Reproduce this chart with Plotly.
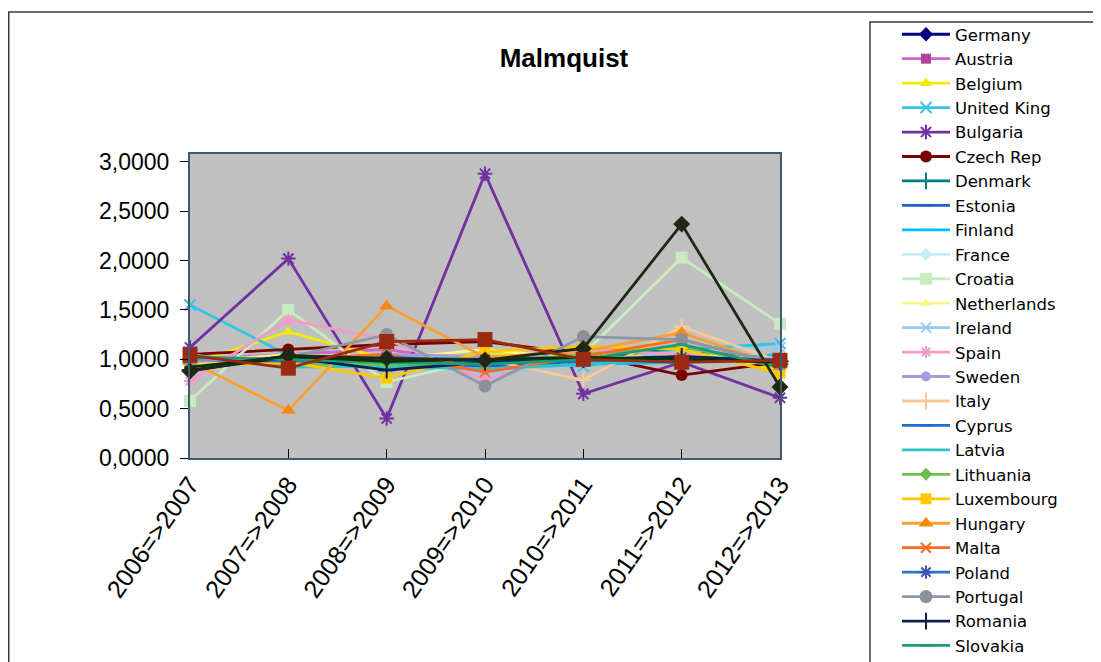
import plotly.graph_objects as go

# ---------------- data ----------------
periods = ["2006=>2007", "2007=>2008", "2008=>2009", "2009=>2010",
           "2010=>2011", "2011=>2012", "2012=>2013"]
y_ticks = [0.0, 0.5, 1.0, 1.5, 2.0, 2.5, 3.0]
y_tick_labels = ["0,0000", "0,5000", "1,0000", "1,5000", "2,0000", "2,5000", "3,0000"]

germany     = [0.96, 1.02, 0.95, 1.00, 1.02, 1.05, 0.98]
austria     = [1.00, 1.05, 1.10, 0.95, 1.12, 1.10, 1.00]
belgium     = [0.95, 1.28, 1.00, 1.05, 1.05, 1.05, 0.90]
united_king = [1.55, 1.04, 0.92, 0.95, 0.93, 1.10, 1.16]
bulgaria    = [1.12, 2.02, 0.40, 2.88, 0.65, 0.97, 0.61]
czech_rep   = [1.05, 1.10, 1.15, 1.18, 1.05, 0.84, 0.97]
denmark     = [1.00, 0.98, 0.95, 0.95, 1.00, 1.12, 0.95]
estonia     = [0.98, 0.95, 0.97, 0.93, 0.98, 1.05, 0.97]
finland     = [0.97, 0.98, 0.92, 0.90, 0.95, 0.97, 1.05]
france      = [0.99, 1.00, 0.98, 0.97, 1.00, 1.02, 1.00]
croatia     = [0.58, 1.50, 0.77, 1.00, 1.05, 2.03, 1.36]
netherlands = [0.97, 1.05, 1.00, 1.10, 1.00, 1.05, 1.00]
ireland     = [0.92, 0.95, 1.05, 0.85, 0.95, 1.08, 1.12]
spain       = [0.78, 1.40, 1.20, 0.79, 1.10, 1.05, 0.95]
sweden      = [1.02, 1.00, 1.05, 1.03, 1.02, 1.00, 0.98]
italy       = [0.95, 1.00, 1.00, 1.00, 0.79, 1.33, 0.98]
cyprus      = [1.00, 0.97, 0.98, 0.97, 0.99, 1.00, 1.00]
latvia      = [1.05, 0.92, 0.93, 0.90, 0.95, 1.00, 0.98]
lithuania   = [1.04, 0.95, 0.95, 0.96, 1.05, 1.13, 0.92]
luxembourg  = [0.92, 0.97, 0.81, 1.08, 1.13, 1.10, 0.86]
hungary     = [0.98, 0.48, 1.54, 1.02, 1.08, 1.27, 0.93]
malta       = [1.02, 1.00, 1.05, 0.87, 1.03, 1.20, 0.95]
poland      = [1.00, 0.98, 1.02, 1.00, 0.98, 1.02, 1.00]
portugal    = [0.98, 1.02, 1.25, 0.73, 1.23, 1.20, 0.95]
romania     = [0.89, 1.02, 0.89, 0.97, 1.00, 1.03, 0.98]
slovakia    = [1.02, 1.00, 0.97, 0.95, 1.00, 1.15, 0.92]
# series whose legend entries lie below the visible part of the legend box
slovenia    = [0.92, 1.03, 0.98, 1.00, 1.02, 1.00, 0.97]
greece      = [0.88, 1.04, 1.01, 0.99, 1.11, 2.37, 0.72]
average     = [1.04, 0.91, 1.18, 1.20, 1.00, 0.97, 0.99]

series = [
    ("Germany", germany), ("Austria", austria), ("Belgium", belgium),
    ("United King", united_king), ("Bulgaria", bulgaria), ("Czech Rep", czech_rep),
    ("Denmark", denmark), ("Estonia", estonia), ("Finland", finland),
    ("France", france), ("Croatia", croatia), ("Netherlands", netherlands),
    ("Ireland", ireland), ("Spain", spain), ("Sweden", sweden), ("Italy", italy),
    ("Cyprus", cyprus), ("Latvia", latvia), ("Lithuania", lithuania),
    ("Luxembourg", luxembourg), ("Hungary", hungary), ("Malta", malta),
    ("Poland", poland), ("Portugal", portugal), ("Romania", romania),
    ("Slovakia", slovakia), ("Slovenia", slovenia), ("Greece", greece),
    ("Average", average),
]
hidden_in_legend = ["Slovenia", "Greece", "Average"]

# ---------------- styles ----------------
styles = {
    "Germany":     ("#000080", "#000080", "diamond", 11),
    "Austria":     ("#CC66CC", "#B0449E", "square", 10),
    "Belgium":     ("#F2EA00", "#F2EA00", "triangle-up", 11),
    "United King": ("#33C4E6", "#33C4E6", "x-thin-open", 11),
    "Bulgaria":    ("#7030A0", "#7030A0", "asterisk-open", 12),
    "Czech Rep":   ("#7A0000", "#7A0000", "circle", 12),
    "Denmark":     ("#008080", "#008080", "cross-thin-open", 12),
    "Estonia":     ("#1F5FC8", "#1F5FC8", "line-ew-open", 10),
    "Finland":     ("#00BFFF", "#00BFFF", "line-ew-open", 8),
    "France":      ("#C6ECF7", "#C6ECF7", "diamond", 10),
    "Croatia":     ("#C8EBC0", "#C8EBC0", "square", 12),
    "Netherlands": ("#F7F58C", "#F7F58C", "triangle-up", 10),
    "Ireland":     ("#99C8F0", "#99C8F0", "x-thin-open", 10),
    "Spain":       ("#F59AC8", "#F59AC8", "asterisk-open", 10),
    "Sweden":      ("#A99BDB", "#A99BDB", "circle", 10),
    "Italy":       ("#FAC896", "#FAC896", "cross-thin-open", 12),
    "Cyprus":      ("#1E6ED2", "#1E6ED2", "line-ew-open", 10),
    "Latvia":      ("#2CC4C8", "#2CC4C8", "line-ew-open", 8),
    "Lithuania":   ("#6CC04A", "#6CC04A", "diamond", 10),
    "Luxembourg":  ("#FFC800", "#FFC800", "square", 11),
    "Hungary":     ("#F7A035", "#F58A10", "triangle-up", 13),
    "Malta":       ("#FF6A20", "#FF6A20", "x-thin-open", 10),
    "Poland":      ("#3470C8", "#3A50B0", "asterisk-open", 11),
    "Portugal":    ("#8A98A8", "#8C9098", "circle", 13),
    "Romania":     ("#0A2050", "#0A2050", "cross-thin-open", 12),
    "Slovakia":    ("#1E9A78", "#1E9A78", "line-ew-open", 8),
    "Slovenia":    ("#003300", "#003300", "line-ew-open", 8),
    "Greece":      ("#1E2814", "#1E2814", "diamond", 13),
    "Average":     ("#9A2A10", "#9A2A10", "square", 15),
}

fig = go.Figure()
for name, vals in series:
    lc, mc, sym, sz = styles[name]
    open_sym = sym.endswith("-open")
    fig.add_trace(go.Scatter(
        x=periods, y=vals, name=name, mode="lines+markers",
        line=dict(color=lc, width=2.8),
        marker=dict(symbol=sym, size=sz, color=mc,
                    line=dict(color=mc, width=2 if open_sym else 0)),
        cliponaxis=False,
        showlegend=name not in hidden_in_legend,
    ))

# page has an 8px body offset; figure coordinates = page coordinates - 8
OFF = 8
W, H = 1101 - OFF, 662 - OFF
L, T = 190 - OFF, 154 - OFF
R = W - (780 - OFF)
B = H - (458 - OFF)
pw, ph = W - L - R, H - T - B


def px_x(p):  # page x -> paper
    return (p - OFF - L) / pw


def px_y(p):  # page y -> paper
    return (H - B - (p - OFF)) / ph


fig.update_layout(
    width=W, height=H,
    margin=dict(l=L, r=R, t=T, b=B, autoexpand=False),
    paper_bgcolor="white",
    plot_bgcolor="#C0C0C0",
    font=dict(family="Liberation Sans, Arial, sans-serif", color="black"),
    title=dict(text="<b>Malmquist</b>", xref="container", yref="container",
               x=(564 - OFF) / W, xanchor="center",
               y=1 - (58 - OFF) / H, yanchor="middle",
               font=dict(size=26, color="black")),
    xaxis=dict(type="category", range=[0, 6], showgrid=False, zeroline=False,
               showline=True, linecolor="#3E5A6E", linewidth=2, mirror=True,
               ticks="inside", ticklen=9, tickcolor="black", tickwidth=1,
               tickangle=-55, tickfont=dict(size=25)),
    yaxis=dict(range=[0, 3.08], tickvals=y_ticks, ticktext=y_tick_labels,
               showgrid=False, zeroline=False, showline=True, linecolor="#3E5A6E",
               linewidth=2, mirror=True, ticks="outside", ticklen=8,
               tickcolor="black", tickwidth=1, tickfont=dict(size=23),
               ticklabelstandoff=6),
    legend=dict(x=px_x(897), y=px_y(17), xanchor="left", yanchor="top",
                bgcolor="rgba(0,0,0,0)", borderwidth=0,
                font=dict(size=16.5, color="black",
                          family="DejaVu Sans, Liberation Sans, sans-serif"),
                itemwidth=48, tracegroupgap=0, maxheight=1200),
    shapes=[
        dict(type="rect", xref="paper", yref="paper",
             x0=px_x(8.75), x1=px_x(1101 + 20), y0=px_y(12), y1=px_y(662 + 20),
             line=dict(color="#3A3A3A", width=1.5), fillcolor="rgba(0,0,0,0)",
             layer="below"),
        dict(type="rect", xref="paper", yref="paper",
             x0=px_x(870), x1=px_x(1097), y0=px_y(22), y1=px_y(662 + 20),
             line=dict(color="#3A3A3A", width=1.5), fillcolor="white",
             layer="below"),
    ],
)

fig.write_html("out.html")
